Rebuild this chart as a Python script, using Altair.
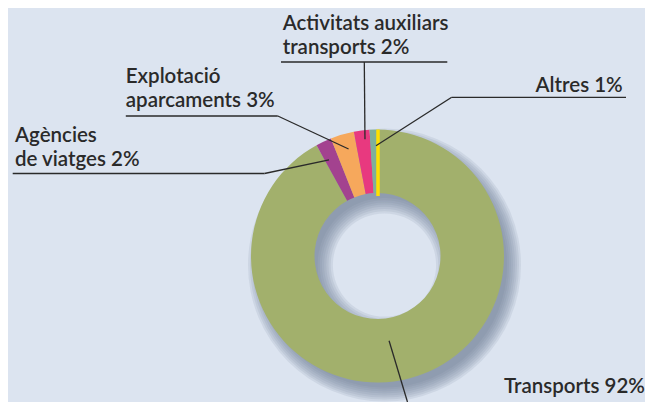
import math
import altair as alt
import pandas as pd

# ---- data -----------------------------------------------------------------
categories = ["Transports", "Agències de viatges", "Explotació aparcaments",
              "Activitats auxiliars transports", "Altres"]
values = [92, 2, 3, 2, 1]
colors = ["#a2b06c", "#a3428f", "#f6a85c", "#e8397f", "#7fb09a"]
label_lines = [["Transports 92%"], ["Agències", "de viatges 2%"],
               ["Explotació", "aparcaments 3%"],
               ["Activitats auxiliars", "transports 2%"], ["Altres 1%"]]

# ---- layout (chart pixel coordinates) -------------------------------------
W, H = 637, 386
CX, CY = 369.5, 248
R_OUT, R_IN = 126.5, 63
anchor_frac = [0.52, 0.28, 0.6, 0.65, 0.78]
anchor_r = [85.5, 107.6, 110.8, 117.4, 110.3]
elbow_x = [399.5, 256.5, 269.8, 356.3, 443.7]
elbow_y = [394, 165.5, 108, 54, 89.3]
under_x1 = [None, 4.7, 117.8, 273, 443.7]
under_x2 = [None, 256.5, 269.8, 439.3, 618]
text_x = [637, 7, 117.8, 274.7, 614.7]
text_align = ["right", "left", "left", "left", "right"]
text_y0 = [385, 133.7, 75.3, 22, 83.7]
LINE_H = 24
BG = "#dce4f0"
INK = "#2a2a2a"

# ---- tables ---------------------------------------------------------------
total = sum(values)
df = pd.DataFrame({"cat": categories, "value": values, "order": range(len(values))})

segs = []
texts = []
cum = 0
for i, v in enumerate(values):
    start = cum / total * 2 * math.pi
    cum += v
    end = cum / total * 2 * math.pi
    th = start + anchor_frac[i] * (end - start)
    ax = CX + anchor_r[i] * math.sin(th)
    ay = CY - anchor_r[i] * math.cos(th)
    segs.append({"x": ax, "y": ay, "x2": elbow_x[i], "y2": elbow_y[i]})
    if under_x1[i] is not None:
        segs.append({"x": under_x1[i], "y": elbow_y[i], "x2": under_x2[i], "y2": elbow_y[i]})
    for j, line in enumerate(label_lines[i]):
        texts.append({"t": line, "x": text_x[i], "y": text_y0[i] + j * LINE_H,
                      "align": text_align[i]})
seg_df = pd.DataFrame(segs)
txt_df = pd.DataFrame(texts)

NRING = 8
shadow_df = pd.DataFrame({
    "sx": [CX + 7] * NRING, "sy": [CY + 9] * NRING,
    "ro": [R_OUT - 4 + 2.0 * k for k in range(NRING)],
    "ri": [R_IN + 4 - 2.2 * k for k in range(NRING)],
})
yellow_df = pd.DataFrame({"x": [CX + 0.5], "y": [CY - R_OUT], "y2": [CY - R_IN + 3]})

NS = dict(scale=None)

shadow = alt.Chart(shadow_df).mark_arc(theta=0, theta2=2 * math.pi, color="#6b7b96",
                                       opacity=0.13).encode(
    x=alt.X("sx:Q", **NS), y=alt.Y("sy:Q", **NS),
    radius=alt.Radius("ro:Q", **NS), radius2=alt.Radius2("ri:Q"))

donut = alt.Chart(df).mark_arc(radius=R_OUT, radius2=R_IN).encode(
    theta=alt.Theta("value:Q", stack=True),
    color=alt.Color("cat:N", scale=alt.Scale(domain=categories, range=colors), legend=None),
    order=alt.Order("order:Q"),
    x=alt.value(CX), y=alt.value(CY))

yellow = alt.Chart(yellow_df).mark_rule(color="#ffe000", strokeWidth=3.5).encode(
    x=alt.X("x:Q", **NS), y=alt.Y("y:Q", **NS), y2="y2:Q")

leaders = alt.Chart(seg_df).mark_rule(color=INK, strokeWidth=1.3).encode(
    x=alt.X("x:Q", **NS), y=alt.Y("y:Q", **NS), x2="x2:Q", y2="y2:Q")

def text_layer(al):
    return alt.Chart(txt_df[txt_df["align"] == al]).mark_text(
        align=al, baseline="alphabetic", font="Lato", fontSize=20.5, fontWeight=600,
        color=INK).encode(
        x=alt.X("x:Q", **NS), y=alt.Y("y:Q", **NS), text="t:N")

chart = alt.layer(shadow, donut, yellow, leaders,
                  text_layer("left"), text_layer("right")).properties(
    width=W, height=H, padding=0, background=BG
).configure_view(stroke=None, fill=BG)

chart.save("out.html", embed_options={"renderer": "svg", "actions": False})
